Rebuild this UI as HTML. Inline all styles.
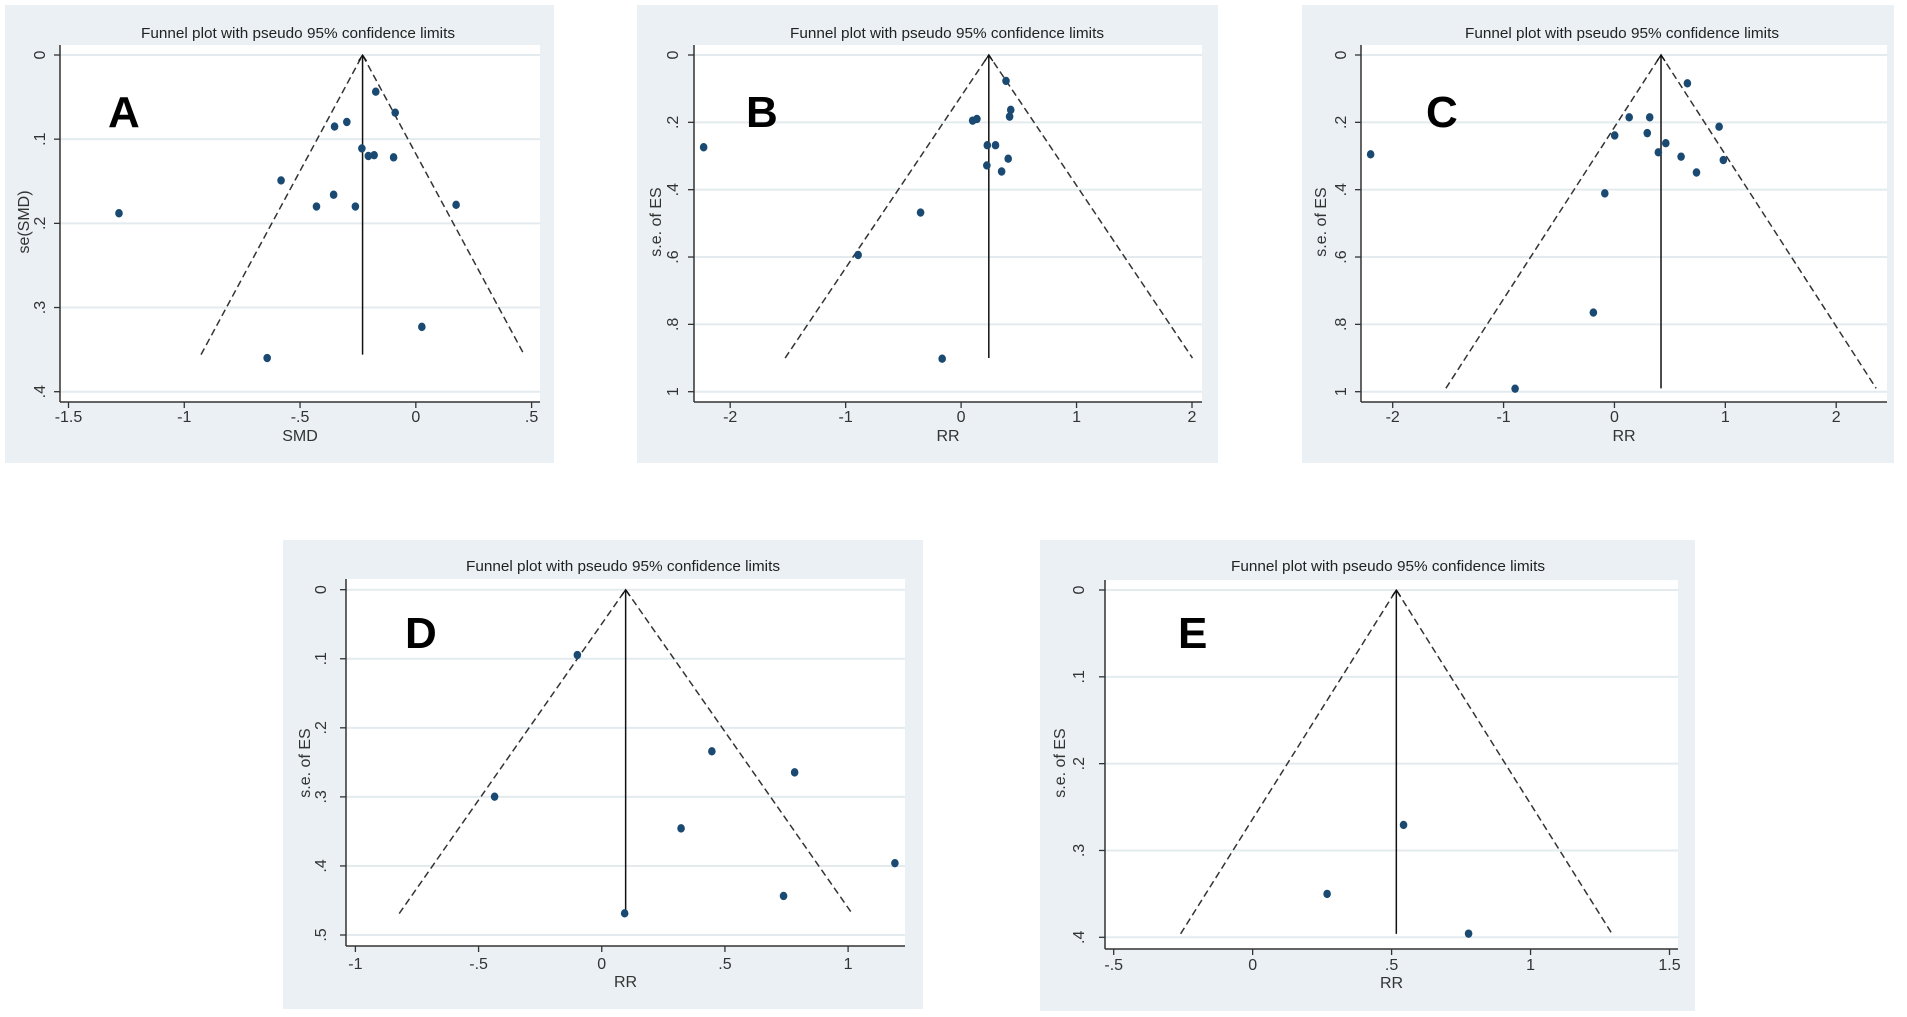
<!DOCTYPE html>
<html>
<head>
<meta charset="utf-8">
<style>
html,body{margin:0;padding:0;background:#fff;}
svg{display:block;font-family:"Liberation Sans",sans-serif;}
</style>
</head>
<body>
<svg id="fig" width="1907" height="1017" viewBox="0 0 1907 1017" xmlns="http://www.w3.org/2000/svg"></svg>
<script>
// ---------- Data ----------
const aEs = [-0.173,-0.089,-0.298,-0.351,-0.233,-0.205,-0.180,-0.096,-0.582,-0.355,-0.429,-0.261,0.174,-1.282,0.026,-0.642];
const aSe = [0.0436,0.0685,0.0796,0.085,0.111,0.120,0.119,0.1216,0.149,0.166,0.180,0.180,0.178,0.188,0.323,0.360];
const aPooled = -0.23;
const aMaxSe = 0.356;
const aXTicks = [-1.5,-1,-0.5,0,0.5];
const aXLabels = ["-1.5","-1","-.5","0",".5"];
const aYTicks = [0,0.1,0.2,0.3,0.4];
const aYLabels = ["0",".1",".2",".3",".4"];
const bEs = [0.389,0.43,0.42,0.10,0.137,-2.23,0.227,0.298,0.408,0.223,0.351,-0.351,-0.892,-0.164];
const bSe = [0.077,0.163,0.183,0.195,0.190,0.274,0.268,0.268,0.308,0.328,0.346,0.468,0.594,0.902];
const bPooled = 0.24;
const bMaxSe = 0.9;
const bXTicks = [-2,-1,0,1,2];
const bXLabels = ["-2","-1","0","1","2"];
const bYTicks = [0,0.2,0.4,0.6,0.8,1];
const bYLabels = ["0",".2",".4",".6",".8","1"];
const cEs = [0.658,0.133,0.318,0.944,0.002,0.296,0.463,0.396,0.601,0.982,0.74,-2.199,-0.087,-0.190,-0.896];
const cSe = [0.084,0.185,0.185,0.213,0.239,0.232,0.262,0.289,0.302,0.312,0.349,0.295,0.411,0.765,0.991];
const cPooled = 0.42;
const cMaxSe = 0.99;
const cXTicks = [-2,-1,0,1,2];
const cXLabels = ["-2","-1","0","1","2"];
const cYTicks = [0,0.2,0.4,0.6,0.8,1];
const cYLabels = ["0",".2",".4",".6",".8","1"];
const dEs = [-0.099,-0.435,0.447,0.783,0.322,1.190,0.738,0.093];
const dSe = [0.0946,0.2997,0.234,0.2645,0.3456,0.396,0.4435,0.4686];
const dPooled = 0.097;
const dMaxSe = 0.469;
const dXTicks = [-1,-0.5,0,0.5,1];
const dXLabels = ["-1","-.5","0",".5","1"];
const dYTicks = [0,0.1,0.2,0.3,0.4,0.5];
const dYLabels = ["0",".1",".2",".3",".4",".5"];
const eEs = [0.543,0.268,0.777];
const eSe = [0.2706,0.350,0.3958];
const ePooled = 0.517;
const eMaxSe = 0.396;
const eXTicks = [-0.5,0,0.5,1,1.5];
const eXLabels = ["-.5","0",".5","1","1.5"];
const eYTicks = [0,0.1,0.2,0.3,0.4];
const eYLabels = ["0",".1",".2",".3",".4"];

// ---------- Layout ----------
const layouts = [
 {id:'a',letter:'A',xlab:'SMD',ylab:'se(SMD)',es:aEs,se:aSe,pooled:aPooled,maxSe:aMaxSe,xt:aXTicks,xl:aXLabels,yt:aYTicks,yl:aYLabels,
  bg:[5,5,549,458],plot:[60,45,540,402],xc:[68.5,531.6],yc:[55,391.7],titleX:298,titleY:38,tickY:422,xlabY:441,ylabX:29,ylabY:222,ytlX:45,
  letterX:108,letterY:127},
 {id:'b',letter:'B',xlab:'RR',ylab:'s.e. of ES',es:bEs,se:bSe,pooled:bPooled,maxSe:bMaxSe,xt:bXTicks,xl:bXLabels,yt:bYTicks,yl:bYLabels,
  bg:[637,5,581,458],plot:[694,45,1202,402],xc:[730.2,1192],yc:[55,391.7],titleX:947,titleY:38,tickY:422,xlabY:441,ylabX:661,ylabY:222,ytlX:678,
  letterX:746,letterY:127},
 {id:'c',letter:'C',xlab:'RR',ylab:'s.e. of ES',es:cEs,se:cSe,pooled:cPooled,maxSe:cMaxSe,xt:cXTicks,xl:cXLabels,yt:cYTicks,yl:cYLabels,
  bg:[1302,5,592,458],plot:[1361,45,1887,402],xc:[1392.7,1836.2],yc:[55,391.7],titleX:1622,titleY:38,tickY:422,xlabY:441,ylabX:1326,ylabY:222,ytlX:1346,
  letterX:1426,letterY:127},
 {id:'d',letter:'D',xlab:'RR',ylab:'s.e. of ES',es:dEs,se:dSe,pooled:dPooled,maxSe:dMaxSe,xt:dXTicks,xl:dXLabels,yt:dYTicks,yl:dYLabels,
  bg:[283,540,640,469],plot:[346,579,905,946],xc:[355.4,848.1],yc:[589.7,935],titleX:623,titleY:571,tickY:969,xlabY:987,ylabX:310,ylabY:763,ytlX:326,
  letterX:405,letterY:648},
 {id:'e',letter:'E',xlab:'RR',ylab:'s.e. of ES',es:eEs,se:eSe,pooled:ePooled,maxSe:eMaxSe,xt:eXTicks,xl:eXLabels,yt:eYTicks,yl:eYLabels,
  bg:[1040,540,655,471],plot:[1105,580,1678,949],xc:[1113.7,1669.5],yc:[590,937.3],titleX:1388,titleY:571,tickY:970,xlabY:988,ylabX:1065,ylabY:763,ytlX:1084,
  letterX:1178,letterY:648}
];

const NS='http://www.w3.org/2000/svg';
const fig=document.getElementById('fig');
function mk(tag,attrs,parent){const e=document.createElementNS(NS,tag);for(const k in attrs)e.setAttribute(k,attrs[k]);(parent||fig).appendChild(e);return e;}

layouts.forEach(L=>{
  const g=mk('g',{});
  
  
  const x0=L.xt[0],x1=L.xt[L.xt.length-1],y0=L.yt[0],y1=L.yt[L.yt.length-1];
  const sx=v=>L.xc[0]+(v-x0)*(L.xc[1]-L.xc[0])/(x1-x0);
  const sy=v=>L.yc[0]+(v-y0)*(L.yc[1]-L.yc[0])/(y1-y0);
  const bg=mk('rect',{x:L.bg[0],y:L.bg[1],width:L.bg[2],height:L.bg[3],fill:'#eaf0f3'},g);
  
  
  const [px0,py0,px1,py1]=L.plot;
  const pr=mk('rect',{x:px0,y:py0,width:px1-px0,height:py1-py0,fill:'#ffffff'},g);
  
  
  L.yt.forEach((v,i)=>{
    const y=sy(v);
    const gl=mk('line',{x1:px0,x2:px1,y1:y,y2:y,stroke:'#e3ebef','stroke-width':2},g);
    
    
    mk('line',{x1:px0-6,x2:px0,y1:y,y2:y,stroke:'#333','stroke-width':1.3},g);
    const t=mk('text',{x:L.ytlX,y:y,'font-size':16,fill:'#333','text-anchor':'middle',transform:`rotate(-90 ${L.ytlX} ${y})`},g);
    t.textContent=L.yl[i];
    
    
  });
  const ya=mk('line',{x1:px0,x2:px0,y1:py0,y2:py1,stroke:'#333','stroke-width':1.5},g);
  
  
  const xa=mk('line',{x1:px0,x2:px1,y1:py1,y2:py1,stroke:'#333','stroke-width':1.5},g);
  
  
  L.xt.forEach((v,i)=>{
    const x=sx(v);
    mk('line',{x1:x,x2:x,y1:py1,y2:py1+6,stroke:'#333','stroke-width':1.3},g);
    const t=mk('text',{x:x,y:L.tickY,'font-size':16,fill:'#333','text-anchor':'middle'},g);
    t.textContent=L.xl[i];
    
    
  });
  const tt=mk('text',{x:L.titleX,y:L.titleY,'font-size':15,fill:'#222','text-anchor':'middle',textLength:314,lengthAdjust:'spacingAndGlyphs'},g);
  tt.textContent='Funnel plot with pseudo 95% confidence limits';
  
  
  const xt=mk('text',{x:(px0+px1)/2,y:L.xlabY,'font-size':16,fill:'#333','text-anchor':'middle'},g);
  xt.textContent=L.xlab;
  
  
  const yt=mk('text',{x:L.ylabX,y:L.ylabY,'font-size':16,fill:'#333','text-anchor':'middle',transform:`rotate(-90 ${L.ylabX} ${L.ylabY})`},g);
  yt.textContent=L.ylab;
  
  
  const lt=mk('text',{x:L.letterX,y:L.letterY,'font-size':44,'font-weight':'bold',fill:'#000'},g);
  lt.textContent=L.letter;
  
  
  const lo=L.pooled-1.96*L.maxSe, hi=L.pooled+1.96*L.maxSe;
  const fl=mk('polyline',{points:`${sx(lo)},${sy(L.maxSe)} ${sx(L.pooled)},${sy(0)} ${sx(hi)},${sy(L.maxSe)}`,fill:'none',stroke:'#333','stroke-width':1.5,'stroke-dasharray':'7,4'},g);
  
  
  const vl=mk('line',{x1:sx(L.pooled),x2:sx(L.pooled),y1:sy(0),y2:sy(L.maxSe),stroke:'#111','stroke-width':1.5},g);
  
  
  mk('polyline',{points:`${sx(L.pooled)-4},${sy(0)+6} ${sx(L.pooled)},${sy(0)} ${sx(L.pooled)+4},${sy(0)+6}`,fill:'none',stroke:'#111','stroke-width':1.3},g);
  L.es.forEach((v,i)=>{
    const c=mk('ellipse',{cx:sx(v),cy:sy(L.se[i]),rx:3.8,ry:4.2,fill:'#1a4a72'},g);
    
    
  });
});
</script>
</body>
</html>
